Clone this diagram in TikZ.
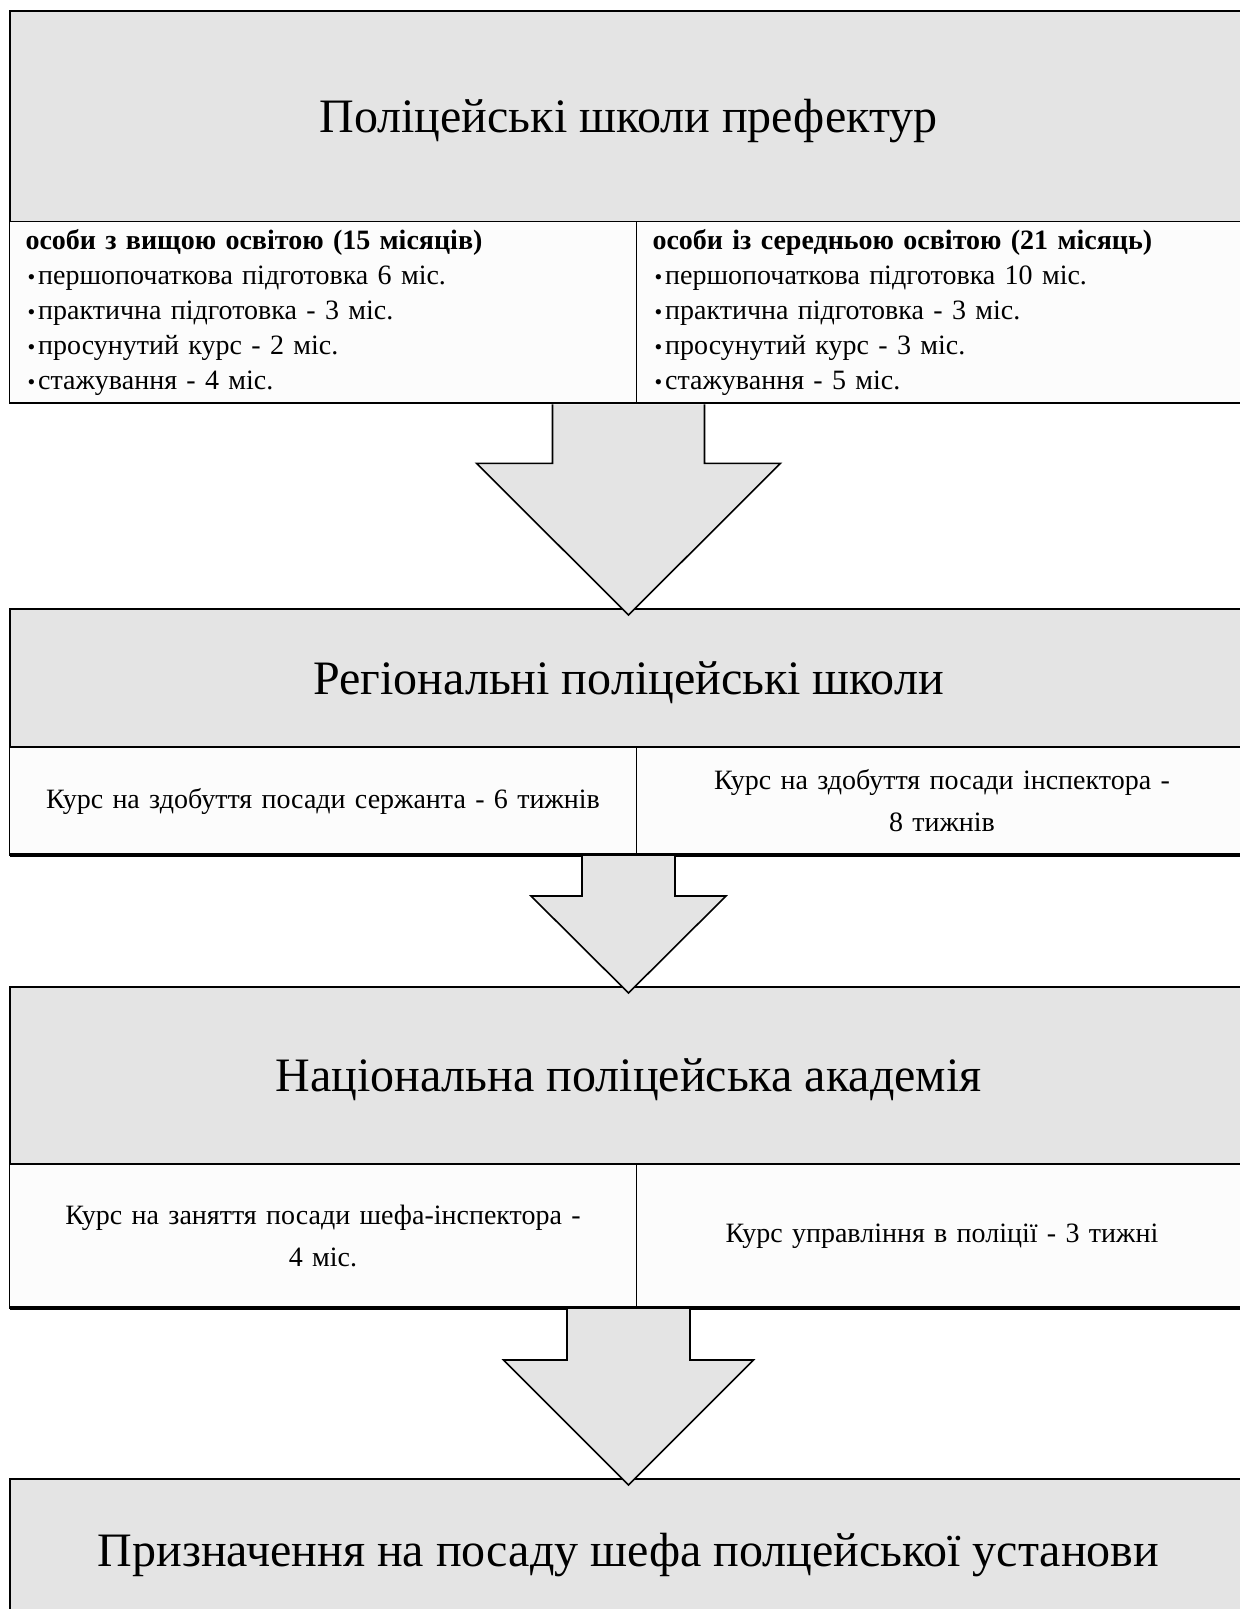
\documentclass[tikz,border=0pt]{standalone}
\usepackage{fontspec}
\setmainfont{Liberation Serif}
\usetikzlibrary{positioning, calc}

\definecolor{boxgrey}{RGB}{228,228,228}
\definecolor{cellwhite}{RGB}{252,252,252}

% small bullet of the lists
\newcommand{\itm}{\hspace{1pt}{\fontsize{11}{11}\selectfont•}\hspace{1.5pt}}

% block arrow: start point, tip node anchor, shaft half, head half, shaft length
\newcommand{\bigarrow}[5]{%
  \draw[blockarrow] ($(#1)+(-#3,1)$) -- ($(#1)+(-#3,#5)$) -- ($(#1)+(-#4,#5)$)
    -- ($(#2)+(0,6)$) -- ($(#1)+(#4,#5)$) -- ($(#1)+(#3,#5)$) -- ($(#1)+(#3,1)$);
}

\begin{document}
\begin{tikzpicture}[
    x=0.5pt, y=-0.5pt,
    head/.style={rectangle, draw, fill=boxgrey, line width=1pt, outer sep=0pt, minimum width=619pt, inner sep=0pt, text depth=0pt, font=\fontsize{24}{30}\selectfont},
    cell/.style={rectangle, draw, fill=cellwhite, line width=0.8pt, outer sep=0pt, inner xsep=8pt, inner ysep=0pt},
    leftcell/.style={cell, text width=297.5pt},
    rightcell/.style={cell, text width=289.5pt},
    listtext/.style={align=left, font=\fontsize{14}{17.5}\selectfont},
    midtext/.style={align=center, font=\fontsize{14}{21}\selectfont},
    rowline/.style={line width=1.8pt},
    blockarrow/.style={draw, fill=boxgrey, line width=0.8pt, line join=miter}
]
\useasboundingbox (0,0) rectangle (1240,1609);

% Prefecture schools
\node[head, minimum height=105.5pt, anchor=north west] (hd1) at (9.5,10.7) {Поліцейські школи префектур};
\node[leftcell, listtext, minimum height=90.8pt, below right=0pt and 0pt of hd1.south west] (c1l)
  {{\bfseries особи з вищою освітою (15 місяців)}\\
   \itm першопочаткова підготовка 6 міс.\\
   \itm практична підготовка - 3 міс.\\
   \itm просунутий курс - 2 міс.\\
   \itm стажування - 4 міс.};
\node[rightcell, listtext, minimum height=90.8pt, below right=0pt and 0pt of c1l.north east] (c1r)
  {{\bfseries особи із середньою освітою (21 місяць)}\\
   \itm першопочаткова підготовка 10 міс.\\
   \itm практична підготовка - 3 міс.\\
   \itm просунутий курс - 3 міс.\\
   \itm стажування - 5 міс.};

% Regional schools
\node[head, minimum height=69pt, below right=102.85pt and 0pt of c1l.south west] (hd2) {Регіональні поліцейські школи};
\node[leftcell, midtext, minimum height=54pt, below right=0pt and 0pt of hd2.south west] (c2l)
  {Курс на здобуття посади сержанта - 6 тижнів};
\node[rightcell, midtext, minimum height=54pt, below right=0pt and 0pt of c2l.north east] (c2r)
  {Курс на здобуття посади інспектора -\\8 тижнів};
\draw[rowline] (c2l.south west) -- (c2r.south east);

% National academy
\node[head, minimum height=88.5pt, below right=66pt and 0pt of c2l.south west] (hd3) {Національна поліцейська академія};
\node[leftcell, midtext, minimum height=72pt, below right=0pt and 0pt of hd3.south west] (c3l)
  {Курс на заняття посади шефа-інспектора -\\4 міс.};
\node[rightcell, midtext, minimum height=72pt, below right=0pt and 0pt of c3l.north east] (c3r)
  {Курс управління в поліції - 3 тижні};
\draw[rowline] (c3l.south west) -- (c3r.south east);

% Appointment
\node[head, minimum height=71pt, below right=85.5pt and 0pt of c3l.south west] (hd4) {Призначення на посаду шефа полцейської установи};

% Arrows
\coordinate (a1) at (hd1.center |- c1l.south);
\coordinate (a2) at (hd2.center |- c2l.south);
\coordinate (a3) at (hd3.center |- c3l.south);
\bigarrow{a1}{hd2.north}{76}{152}{60}
\bigarrow{a2}{hd3.north}{46.5}{97.5}{41}
\bigarrow{a3}{hd4.north}{61.5}{125}{52}

\end{tikzpicture}
\end{document}
